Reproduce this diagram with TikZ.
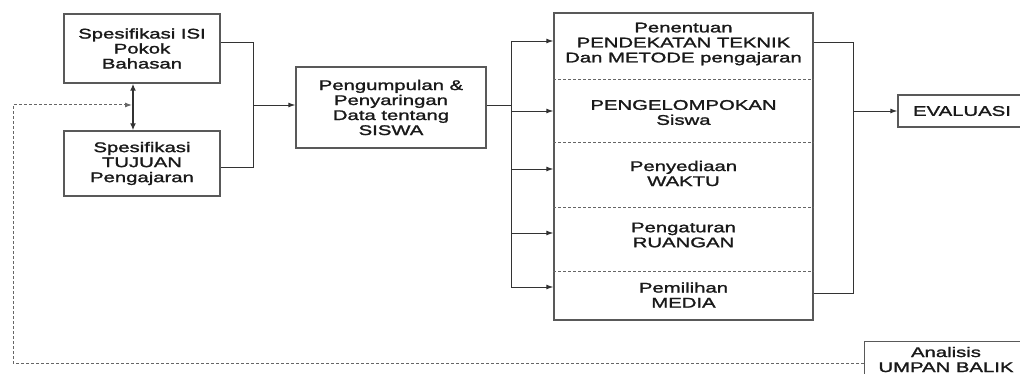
\documentclass[tikz,border=0pt]{standalone}
\usepackage{fontspec}
\setmainfont[FakeStretch=1.45,FakeBold=1.6]{Liberation Sans}
\usetikzlibrary{arrows.meta}
\begin{document}
\begin{tikzpicture}[x=1pt,y=-1pt,
  font=\fontsize{14}{15}\selectfont,
  box/.style={draw=black!65,line width=1.4pt,align=center,inner sep=0pt,text=black!90},
  celltext/.style={align=center,inner sep=0pt,text=black!90},
  conn/.style={draw=black!80,line width=0.9pt},
  arr/.style={conn,-{Latex[length=7pt,width=5pt]}},
  sep/.style={draw=black!60,line width=0.8pt,dash pattern=on 3pt off 2pt},
  fb/.style={draw=black!60,line width=1pt,dash pattern=on 3pt off 2pt}]
\useasboundingbox (0,0) rectangle (1020,374);
\clip (0,0) rectangle (1020,374);
\fill[white] (0,0) rectangle (1020,374);

% left boxes
\node[box,minimum width=156pt,minimum height=69pt] (isi) at (142,48.5)
  {Spesifikasi ISI\\Pokok\\Bahasan};
\node[box,minimum width=156pt,minimum height=65pt] (tuj) at (142,163.5)
  {Spesifikasi\\TUJUAN\\Pengajaran};
\node[box,minimum width=190pt,minimum height=81pt] (pen) at (391,107.5)
  {Pengumpulan \&\\Penyaringan\\Data tentang\\SISWA};

% big box
\node[box,minimum width=259pt,minimum height=307pt] (big) at (683.5,166.5) {};
\node[celltext] (c1) at (683.5,44) {Penentuan\\PENDEKATAN TEKNIK\\Dan METODE pengajaran};
\node[celltext] (c2) at (683.5,112.5) {PENGELOMPOKAN\\Siswa};
\node[celltext] (c3) at (683.5,173.5) {Penyediaan\\WAKTU};
\node[celltext] (c4) at (683.5,235) {Pengaturan\\RUANGAN};
\node[celltext] (c5) at (683.5,295) {Pemilihan\\MEDIA};
\foreach \yy in {79,142,207,271}
  \draw[sep] (big.west |- 0,\yy) -- (big.east |- 0,\yy);

% right boxes
\node[box,minimum width=128pt,minimum height=32pt] (eva) at (962,111) {EVALUASI};
\node[box,minimum width=164pt,minimum height=56pt,anchor=north west] (umpan) at (864,341) {};
\node[celltext] (umpant) at (946,359.5) {Analisis\\UMPAN BALIK};

% double arrow between left boxes
\coordinate (dx) at (133,0);
\draw[draw=black!80,line width=1.8pt,{Latex[length=7pt,width=6pt]}-{Latex[length=7pt,width=6pt]}]
  (isi.south -| dx) -- (tuj.north -| dx);

% left junction
\coordinate (ja) at (253,42);
\coordinate (jb) at (253,167);
\coordinate (jm) at (253,105);
\draw[conn] (ja -| isi.east) -- (ja) -- (jb) -- (jb -| tuj.east);
\draw[arr] (jm) -- (jm -| pen.west);

% bus to big box
\coordinate (bm) at (511,105);
\draw[conn] (bm -| pen.east) -- (bm);
\coordinate (b1) at (511,41);
\coordinate (b2) at (511,111);
\coordinate (b3) at (511,169);
\coordinate (b4) at (511,233);
\coordinate (b5) at (511,287);
\draw[conn] (b1) -- (b5);
\foreach \b in {b1,b2,b3,b4,b5}
  \draw[arr] (\b) -- (\b -| big.west);

% right junction
\coordinate (ka) at (853,42);
\coordinate (kb) at (853,293);
\coordinate (km) at (853,111);
\draw[conn] (ka -| big.east) -- (ka) -- (kb) -- (kb -| big.east);
\draw[arr] (km) -- (eva.west);

% feedback
\coordinate (f1) at (13,363);
\coordinate (f2) at (13,105);
\coordinate (f3) at (132,105);
\draw[fb,-{Latex[length=7pt,width=5pt]}] (f1 -| umpan.west) -- (f1) -- (f2) -- (f3);
\end{tikzpicture}
\end{document}
